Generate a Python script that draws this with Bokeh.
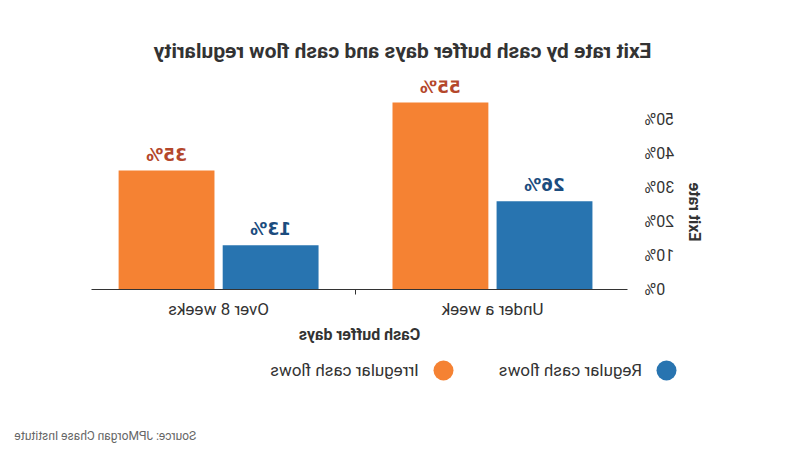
import math
from bokeh.plotting import figure
from bokeh.models import Range1d, FixedTicker, Title, Legend, LegendItem, ColumnDataSource, Label
from bokeh.core.properties import value
from bokeh.embed import file_html
from bokeh.resources import INLINE

# ---- data ----
categories = ["Under a week", "Over 8 weeks"]
series_names = ["Regular cash flows", "Irregular cash flows"]
regular = [26, 13]
irregular = [55, 35]
y_ticks = [0, 10, 20, 30, 40, 50]
y_tick_labels = ["0%", "10%", "20%", "30%", "40%", "50%"]
title_text = "Exit rate by cash buffer days and cash flow regularity"
x_title = "Cash buffer days"
y_title = "Exit rate"
source_note = "Source: JPMorgan Chase Institute"

# ---- styles ----
BLUE = "#2874B0"
ORANGE = "#F58233"
BLUE_TXT = "#1B4C7E"
ORANGE_TXT = "#B4472B"
DARK = "#333333"
FONT = "Roboto"

W = 800
H1, H2 = 346, 104          # main chart / legend strip heights
FL, FR, FT, FB = 172, 708, 80, 291  # frame edges inside the main figure

p = figure(
    width=W, height=H1,
    min_border_left=FL, min_border_right=W - FR,
    min_border_top=FT, min_border_bottom=H1 - FB,
    x_range=Range1d(0.007, 1.964), y_range=Range1d(0, 61.5),
    output_backend="svg", toolbar_location=None,
    background_fill_color="white", border_fill_color="white",
    outline_line_color=None,
)
p.grid.visible = False

off = 0.19
bw = 0.35
xs_reg = [i + 0.5 - off for i in range(len(categories))]
xs_irr = [i + 0.5 + off for i in range(len(categories))]

src_reg = ColumnDataSource(dict(x=xs_reg, top=regular, lab=[f"{v}%" for v in regular]))
src_irr = ColumnDataSource(dict(x=xs_irr, top=irregular, lab=[f"{v}%" for v in irregular]))

p.vbar(x="x", top="top", bottom=0, width=bw, source=src_reg, fill_color=BLUE, line_color=None)
p.vbar(x="x", top="top", bottom=0, width=bw, source=src_irr, fill_color=ORANGE, line_color=None)

p.text(x="x", y="top", text="lab", source=src_reg, text_align="center", text_baseline="bottom",
       y_offset=-6, text_font=value("DejaVu Sans"), text_font_style="bold", text_font_size="17px",
       text_color=BLUE_TXT)
p.text(x="x", y="top", text="lab", source=src_irr, text_align="center", text_baseline="bottom",
       y_offset=-6, text_font=value("DejaVu Sans"), text_font_style="bold", text_font_size="17px",
       text_color=ORANGE_TXT)

# x axis
xa = p.xaxis[0]
xa.ticker = FixedTicker(ticks=[i + 0.5 for i in range(len(categories))],
                        minor_ticks=[float(i) for i in range(1, len(categories))])
xa.major_label_overrides = {i + 0.5: c for i, c in enumerate(categories)}
xa.major_tick_line_color = None
xa.major_tick_out = 0
xa.major_tick_in = 0
xa.minor_tick_line_color = DARK
xa.minor_tick_out = 5
xa.minor_tick_in = 0
xa.axis_line_color = DARK
xa.major_label_text_font = FONT
xa.major_label_text_font_size = "17px"
xa.major_label_text_color = DARK
xa.major_label_standoff = 4
xa.axis_label = x_title
xa.axis_label_text_font = FONT
xa.axis_label_text_font_style = "bold"
xa.axis_label_text_font_size = "16px"
xa.axis_label_text_color = DARK
xa.axis_label_standoff = 3

# y axis
ya = p.yaxis[0]
ya.ticker = FixedTicker(ticks=y_ticks)
ya.major_label_overrides = {t: l for t, l in zip(y_ticks, y_tick_labels)}
ya.axis_line_color = None
ya.major_tick_line_color = None
ya.minor_tick_line_color = None
ya.major_tick_out = 0
ya.major_tick_in = 0
ya.major_label_standoff = 17
ya.major_label_text_font = FONT
ya.major_label_text_font_size = "16px"
ya.major_label_text_color = DARK

# title (above the frame, shifted left of the frame start)
p.title.text = title_text
p.title.align = "left"
p.title.offset = -24
p.title.standoff = 36
p.title.text_font = FONT
p.title.text_font_style = "bold"
p.title.text_font_size = "21px"
p.title.text_color = DARK

# y axis title as a side-panel title
p.add_layout(Title(text=y_title, align="left", offset=48, standoff=14, text_font=FONT,
                   text_font_style="bold", text_font_size="16px", text_color=DARK), "left")

# ---- legend strip: a second root whose frame covers all of it ----
p2 = figure(
    width=W, height=H2, min_border=0,
    x_range=Range1d(0, 1), y_range=Range1d(0, 1),
    x_axis_location=None, y_axis_location=None,
    output_backend="svg", toolbar_location=None,
    background_fill_color="white", border_fill_color="white",
    outline_line_color=None,
)
p2.grid.visible = False

# helper renderers (one point each, outside the visible range) that give the legend its glyphs
r_leg_reg = p2.scatter(x=[-5], y=[-5], marker="circle", fill_color=BLUE, line_color=None)
r_leg_irr = p2.scatter(x=[-5], y=[-5], marker="circle", fill_color=ORANGE, line_color=None)
legend = Legend(items=[LegendItem(label=series_names[0], renderers=[r_leg_reg]),
                       LegendItem(label=series_names[1], renderers=[r_leg_irr])],
                orientation="horizontal", location=(108, 55),
                glyph_width=50, glyph_height=50, label_standoff=0, spacing=30,
                label_text_font=FONT, label_text_font_size="17px", label_text_color=DARK,
                background_fill_alpha=0, border_line_color=None, padding=0, margin=0)
p2.add_layout(legend)

p2.add_layout(Label(x=785, y=H2 - (435 - H1), x_units="screen", y_units="screen", text=source_note,
                    text_align="right", text_baseline="alphabetic", text_font=FONT,
                    text_font_size="12px", text_color="#666666"))

for fig in (p, p2):
    fig.styles = {"transform": "scaleX(-1)"}

open("out.html", "w").write(file_html([p, p2], INLINE))
